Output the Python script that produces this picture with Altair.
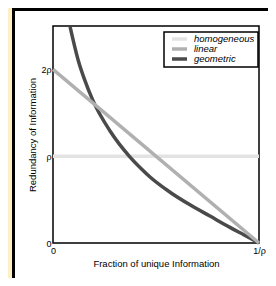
import altair as alt
import pandas as pd

series_names = ["homogeneous", "linear", "geometric"]
series_colors = ["#e3e3e3", "#b0b0b0", "#4a4a4a"]

homog_x = [0.0, 1.0]
homog_y = [1.0, 1.0]
linear_x = [0.0, 1.0]
linear_y = [2.0, 0.0]
geom_x = [0.083, 0.123, 0.152, 0.194, 0.277, 0.374, 0.431, 0.471, 0.568, 0.665, 0.762, 0.859, 0.93, 1.0]
geom_y = [2.49, 2.10, 1.89, 1.64, 1.29, 0.99, 0.85, 0.76, 0.585, 0.44, 0.31, 0.18, 0.09, 0.0]

x_tick_values = [0, 1]
x_tick_labels = ["0", "1/ρ"]
y_tick_values = [0, 1, 2]
y_tick_labels = ["0", "ρ", "2ρ"]
x_title = "Fraction of unique Information"
y_title = "Redundancy of Information"
x_domain = [0, 1]
y_domain = [0, 2.5]

FONT = "Liberation Sans, Arial, Helvetica, sans-serif"


def label_expr(values, labels):
    expr = "''"
    for v, l in reversed(list(zip(values, labels))):
        expr = f"datum.value == {v} ? '{l}' : ({expr})"
    return expr


def series_df(name, xs, ys):
    return pd.DataFrame({"x": xs, "y": ys, "series": [name] * len(xs)})


homog_df = series_df(series_names[0], homog_x, homog_y)
linear_df = series_df(series_names[1], linear_x, linear_y)
geom_df = series_df(series_names[2], geom_x, geom_y)

x_enc = alt.X("x:Q", scale=alt.Scale(domain=x_domain, nice=False, zero=False),
              axis=alt.Axis(values=x_tick_values, labelExpr=label_expr(x_tick_values, x_tick_labels),
                            labelFlush=False, title=x_title, titlePadding=3, labelPadding=3, zindex=2))
y_enc = alt.Y("y:Q", scale=alt.Scale(domain=y_domain, nice=False, zero=False),
              axis=alt.Axis(values=y_tick_values, labelExpr=label_expr(y_tick_values, y_tick_labels),
                            title=y_title, labelPadding=2, titlePadding=3, zindex=2))

color_scale = alt.Scale(domain=series_names, range=series_colors)
legend = alt.Legend(title=None, orient="none", legendX=111, legendY=6, direction="vertical",
                    fillColor="white", strokeColor="black", padding=3,
                    symbolType="stroke", symbolSize=225, symbolStrokeWidth=3.5,
                    clipHeight=8, rowPadding=0, labelFontSize=9.5, labelFontStyle="italic",
                    labelFont=FONT, labelColor="black", labelOffset=5, symbolOffset=3)

outer = alt.Chart(pd.DataFrame({"a": [0]})).mark_rect(fill="white", stroke="black", strokeWidth=3).encode(
    x=alt.value(-39.5), x2=alt.value(400), y=alt.value(-16.5), y2=alt.value(400)
)

frame_df = pd.DataFrame({"x": [x_domain[0]], "x2": [x_domain[1]], "y": [y_domain[0]], "y2": [y_domain[1]]})
frame = alt.Chart(frame_df).mark_rect(fill="transparent", stroke="black", strokeWidth=1.5).encode(
    x=x_enc, x2="x2:Q", y=y_enc, y2="y2:Q"
)


def line_layer(df, show_legend=False):
    return alt.Chart(df).mark_line(strokeWidth=3.5, interpolate="monotone").encode(
        x=x_enc, y=y_enc,
        color=alt.Color("series:N", scale=color_scale, legend=legend if show_legend else None),
    )


chart = alt.layer(
    outer,
    frame,
    line_layer(homog_df, True),
    line_layer(geom_df),
    line_layer(linear_df),
).properties(
    width=206, height=217,
    padding={"left": 45, "top": 18, "right": 9, "bottom": 35},
    autosize=alt.AutoSizeParams(type="none"),
).configure(
    background="#fdf0c4", font=FONT,
).configure_view(
    stroke=None,
).configure_axis(
    ticks=False, domain=False, grid=False, labelFontSize=9, labelColor="black", labelFont=FONT,
    titleFontSize=9.5, titleFontWeight="normal", titleColor="black", titleFont=FONT,
).configure_legend(
    strokeWidth=1.5,
)

chart.save("out.html", embed_options={"renderer": "svg", "actions": False})
